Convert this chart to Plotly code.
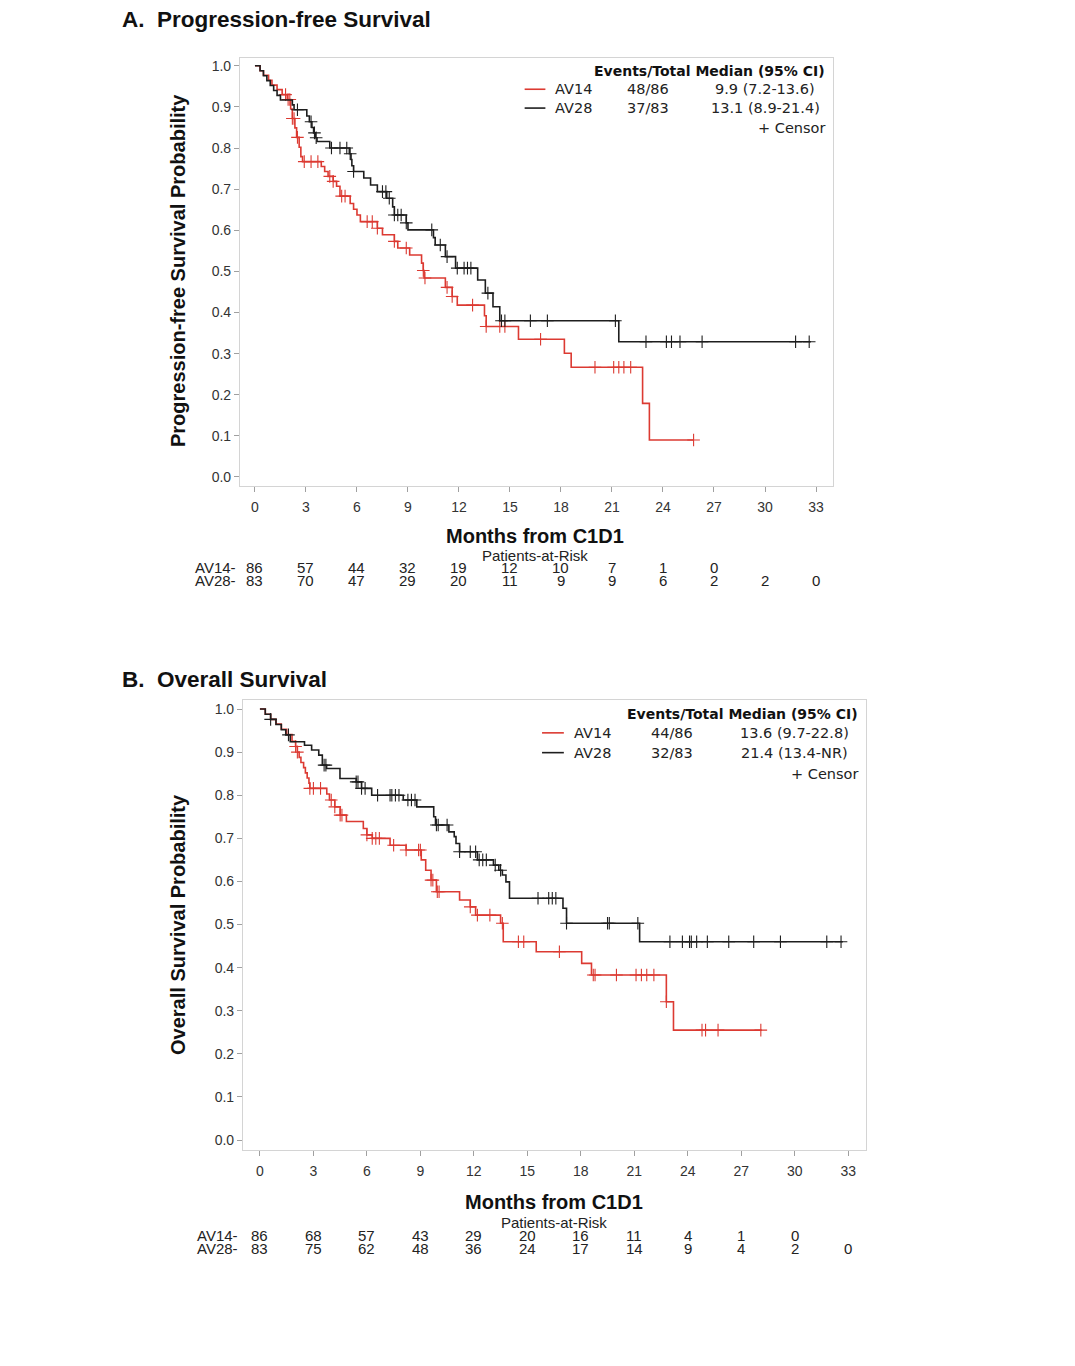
import plotly.graph_objects as go

# ── Data ───────────────────────────────────────────────────────
months_ticks = list(range(0, 34, 3))
prob_ticks = [i / 10 for i in range(11)]

# PFS, AV14 (red): step times and survival after each step
pfs14_t = [0.3, 0.5, 0.8, 1.0, 1.3, 1.6, 1.9, 2.1, 2.2, 2.35, 2.45, 2.6, 2.7, 2.8,
           3.9, 4.1, 4.3, 4.6, 4.8, 5.0, 5.6, 5.8, 6.0, 6.2, 7.2, 7.5, 8.2, 8.4,
           9.1, 9.8, 9.9, 9.95, 11.2, 11.6, 11.9, 13.5, 13.6, 15.5, 18.2, 18.6,
           22.8, 23.2]
pfs14_s = [0.988, 0.977, 0.965, 0.953, 0.942, 0.93, 0.918, 0.895, 0.872, 0.849, 0.826,
           0.802, 0.779, 0.767, 0.755, 0.743, 0.731, 0.719, 0.707, 0.683, 0.665, 0.651,
           0.637, 0.621, 0.605, 0.589, 0.573, 0.557, 0.54, 0.52, 0.502, 0.484, 0.461,
           0.439, 0.418, 0.392, 0.366, 0.335, 0.301, 0.267, 0.179, 0.09]
pfs14_end = 25.8
pfs14_cens = [1.8, 1.95, 2.05, 2.2, 2.3, 2.5, 2.9, 3.3, 3.7, 4.4, 4.6, 5.1, 5.3, 6.6,
              6.9, 7.2, 8.2, 8.9, 9.9, 10.0, 11.3, 11.6, 12.8, 13.6, 14.4, 14.7, 16.8,
              20.0, 21.1, 21.4, 21.7, 22.1, 25.8]

# PFS, AV28 (black)
pfs28_t = [0.3, 0.5, 0.7, 0.9, 1.1, 1.3, 1.5, 2.2, 2.3, 3.05, 3.2, 3.35, 3.45, 3.55,
           3.65, 4.4, 5.55, 5.65, 5.7, 5.8, 6.4, 6.8, 7.2, 7.75, 8.1, 8.2, 8.9, 9.0,
           10.5, 10.6, 11.2, 11.8, 13.1, 13.55, 14.0, 14.4, 21.4]
pfs28_s = [0.988, 0.976, 0.964, 0.952, 0.94, 0.928, 0.917, 0.905, 0.893, 0.878, 0.864,
           0.85, 0.837, 0.825, 0.816, 0.80, 0.786, 0.772, 0.757, 0.743, 0.727, 0.71,
           0.694, 0.678, 0.657, 0.637, 0.618, 0.601, 0.582, 0.564, 0.536, 0.508, 0.479,
           0.447, 0.414, 0.38, 0.329]
pfs28_end = 32.7
pfs28_cens = [2.5, 3.3, 3.5, 3.6, 4.5, 5.0, 5.4, 5.6, 5.8, 7.5, 7.7, 7.9, 8.2, 8.4, 8.6,
              8.9, 10.4, 10.9, 11.3, 11.9, 12.3, 12.5, 12.7, 13.7, 14.5, 14.7, 16.2,
              17.2, 21.2, 23.0, 24.2, 24.5, 25.0, 26.3, 31.8, 32.6]

# OS, AV14 (red)
os14_t = [0.3, 0.6, 0.9, 1.2, 1.5, 1.8, 2.0, 2.1, 2.2, 2.3, 2.45, 2.55, 2.65, 2.75, 2.8,
          3.75, 3.9, 4.2, 4.5, 4.85, 5.8, 6.0, 6.3, 7.3, 8.2, 9.05, 9.3, 9.6, 9.9,
          11.2, 11.8, 12.1, 13.5, 13.65, 15.5, 18.05, 18.6, 22.8, 23.2]
os14_s = [0.988, 0.976, 0.965, 0.953, 0.941, 0.925, 0.913, 0.9, 0.888, 0.876, 0.864,
          0.852, 0.84, 0.828, 0.816, 0.803, 0.789, 0.773, 0.754, 0.739, 0.723, 0.708,
          0.70, 0.684, 0.673, 0.65, 0.626, 0.603, 0.576, 0.557, 0.541, 0.522, 0.503,
          0.46, 0.437, 0.41, 0.383, 0.321, 0.255]
os14_end = 28.15
os14_cens = [2.0, 2.1, 2.8, 3.0, 3.4, 4.0, 4.2, 4.5, 4.6, 6.0, 6.3, 6.5, 6.7, 7.5, 8.2,
             8.9, 9.0, 9.6, 9.7, 9.95, 10.05, 11.8, 12.2, 12.9, 13.6, 14.5, 14.8, 16.8,
             18.7, 18.8, 20.0, 21.1, 21.4, 21.7, 22.1, 22.8, 24.8, 25.0, 25.7, 28.1]

# OS, AV28 (black)
os28_t = [0.3, 0.6, 0.9, 1.2, 1.45, 1.7, 2.5, 2.9, 3.3, 3.5, 3.74, 4.49, 5.4, 5.7, 6.27,
          8.04, 8.8, 9.75, 9.85, 10.6, 10.9, 11.0, 11.2, 12.2, 13.1, 13.4, 13.6, 13.8,
          14.0, 17.0, 17.2, 21.3]
os28_s = [0.988, 0.976, 0.964, 0.952, 0.94, 0.924, 0.916, 0.905, 0.893, 0.87, 0.862,
          0.839, 0.831, 0.816, 0.80, 0.789, 0.773, 0.75, 0.731, 0.715, 0.704, 0.688,
          0.669, 0.65, 0.638, 0.626, 0.615, 0.599, 0.561, 0.538, 0.503, 0.46]
os28_end = 32.7
os28_cens = [0.6, 1.6, 3.6, 3.7, 5.4, 5.5, 5.7, 5.9, 6.6, 7.3, 7.4, 7.6, 7.8, 8.3, 8.5,
             8.7, 9.9, 10.0, 10.5, 11.2, 11.8, 12.1, 12.3, 12.5, 12.7, 13.2, 13.5, 15.6,
             16.2, 16.4, 16.6, 17.2, 19.5, 19.6, 21.2, 23.0, 23.7, 24.1, 24.2, 24.5,
             25.1, 26.3, 27.7, 29.2, 31.8, 32.6]

# Patients at risk
pfs_risk14 = [86, 57, 44, 32, 19, 12, 10, 7, 1, 0]
pfs_risk28 = [83, 70, 47, 29, 20, 11, 9, 9, 6, 2, 2, 0]
os_risk14 = [86, 68, 57, 43, 29, 20, 16, 11, 4, 1, 0]
os_risk28 = [83, 75, 62, 48, 36, 24, 17, 14, 9, 4, 2, 0]

# Legend table text
pfs_legend = [("AV14", "48/86", "9.9 (7.2-13.6)"), ("AV28", "37/83", "13.1 (8.9-21.4)")]
os_legend = [("AV14", "44/86", "13.6 (9.7-22.8)"), ("AV28", "32/83", "21.4 (13.4-NR)")]

RED = '#dc3a32'
BLACK = '#1e1e1e'
FONT = 'Liberation Sans, Arial, sans-serif'
LEG_FONT = 'DejaVu Sans, Verdana, sans-serif'

# page has an 8px body margin, so the figure is laid out in window pixels minus 8
W, H, OFF = 1059, 1350, 8


def fx(px):
    return (px - OFF) / W


def fy(py):
    return 1 - (py - OFF) / H


def km_at(times, surv, t):
    val = 1.0
    for ti, si in zip(times, surv):
        if ti <= t:
            val = si
    return val


fig = go.Figure()


def add_curve(times, surv, end, cens, color, xa, ya):
    fig.add_trace(go.Scatter(
        x=[0] + times + [end], y=[1.0] + surv + [surv[-1]],
        mode='lines', line=dict(color=color, width=1.6, shape='hv'),
        xaxis=xa, yaxis=ya, showlegend=False, hoverinfo='skip'))
    fig.add_trace(go.Scatter(
        x=cens, y=[km_at(times, surv, c) for c in cens],
        mode='markers',
        marker=dict(symbol='cross-thin', size=9, color=color, line=dict(width=1.1, color=color)),
        xaxis=xa, yaxis=ya, showlegend=False, hoverinfo='skip'))


add_curve(pfs14_t, pfs14_s, pfs14_end, pfs14_cens, RED, 'x', 'y')
add_curve(pfs28_t, pfs28_s, pfs28_end, pfs28_cens, BLACK, 'x', 'y')
add_curve(os14_t, os14_s, os14_end, os14_cens, RED, 'x2', 'y2')
add_curve(os28_t, os28_s, os28_end, os28_cens, BLACK, 'x2', 'y2')

axis_common = dict(
    showgrid=False, zeroline=False, showline=True, mirror=True,
    linecolor='#d4d4d4', linewidth=1.2, ticks='outside', ticklen=5,
    tickcolor='#a0a0a0', tickfont=dict(family=FONT, size=14, color='#333333'),
)

fig.update_layout(
    width=W, height=H,
    margin=dict(l=0, r=0, t=0, b=0),
    paper_bgcolor='white', plot_bgcolor='white',
    xaxis=dict(domain=[fx(240), fx(833)], range=[-0.88, 34], tickvals=months_ticks,
               anchor='y', ticklabelstandoff=3, **axis_common),
    yaxis=dict(domain=[fy(486), fy(58)], range=[-0.022, 1.019],
               tickvals=prob_ticks, tickformat='.1f', anchor='x', **axis_common),
    xaxis2=dict(domain=[fx(243), fx(866)], range=[-0.95, 34], tickvals=months_ticks,
                anchor='y2', ticklabelstandoff=3, **axis_common),
    yaxis2=dict(domain=[fy(1150), fy(700)], range=[-0.023, 1.021],
                tickvals=prob_ticks, tickformat='.1f', anchor='x2', **axis_common),
)


def add_panel_text(title, title_y, ytitle, ytitle_y, xa, ya, axis_title_y, par_y,
                   row_y, label_x, risk14, risk28, legend_rows):
    fig.add_annotation(text='<b>' + title + '</b>', x=fx(120), y=fy(title_y),
                       xref='paper', yref='paper', xanchor='left', yanchor='middle',
                       showarrow=False, font=dict(family=FONT, size=22.5, color='#111111'))
    fig.add_annotation(text='<b>' + ytitle + '</b>', x=fx(178), y=fy(ytitle_y),
                       xref='paper', yref='paper', textangle=-90, showarrow=False,
                       xanchor='center', yanchor='middle',
                       font=dict(family=FONT, size=20, color='#111111'))
    fig.add_annotation(text='<b>Months from C1D1</b>', x=16.5, y=fy(axis_title_y),
                       xref=xa, yref='paper', showarrow=False,
                       xanchor='center', yanchor='middle',
                       font=dict(family=FONT, size=20, color='#111111'))
    fig.add_annotation(text='Patients-at-Risk', x=16.5, y=fy(par_y),
                       xref=xa, yref='paper', showarrow=False,
                       xanchor='center', yanchor='middle',
                       font=dict(family=FONT, size=15, color='#222222'))
    for lab, vals, yy in (('AV14-', risk14, row_y[0]), ('AV28-', risk28, row_y[1])):
        fig.add_annotation(text=lab, x=fx(label_x), y=fy(yy), xref='paper', yref='paper',
                           xanchor='right', yanchor='middle', showarrow=False,
                           font=dict(family=FONT, size=15, color='#222222'))
        for t, v in zip(months_ticks, vals):
            fig.add_annotation(text=str(v), x=t, y=fy(yy), xref=xa, yref='paper',
                               xanchor='center', yanchor='middle', showarrow=False,
                               font=dict(family=FONT, size=15, color='#222222'))

    xd, yd = xa + ' domain', ya + ' domain'
    leg_font = dict(family=LEG_FONT, size=14.5, color='#222222')
    fig.add_annotation(text='<b>Events/Total Median (95% CI)</b>', x=0.99, y=0.969,
                       xref=xd, yref=yd, xanchor='right', yanchor='middle', showarrow=False,
                       font=dict(family=LEG_FONT, size=14, color='#111111'))
    for (arm, ev, med), yy, col in zip(legend_rows, (0.927, 0.883), (RED, BLACK)):
        fig.add_shape(type='line', x0=0.48, x1=0.515, y0=yy, y1=yy, xref=xd, yref=yd,
                      line=dict(color=col, width=1.6))
        fig.add_annotation(text=arm, x=0.528, y=yy, xref=xd, yref=yd, xanchor='left',
                           yanchor='middle', showarrow=False, font=leg_font)
        fig.add_annotation(text=ev, x=0.688, y=yy, xref=xd, yref=yd, xanchor='center',
                           yanchor='middle', showarrow=False, font=leg_font)
        fig.add_annotation(text=med, x=0.886, y=yy, xref=xd, yref=yd, xanchor='center',
                           yanchor='middle', showarrow=False, font=leg_font)
    fig.add_annotation(text='+ Censor', x=0.99, y=0.836, xref=xd, yref=yd, xanchor='right',
                       yanchor='middle', showarrow=False, font=leg_font)


add_panel_text('A.  Progression-free Survival', 20, 'Progression-free Survival Probability', 271,
               'x', 'y', 536, 555, (567, 580), 238, pfs_risk14, pfs_risk28, pfs_legend)
add_panel_text('B.  Overall Survival', 679, 'Overall Survival Probability', 925,
               'x2', 'y2', 1202, 1222, (1235, 1248), 240, os_risk14, os_risk28, os_legend)

fig.write_html('out.html')
